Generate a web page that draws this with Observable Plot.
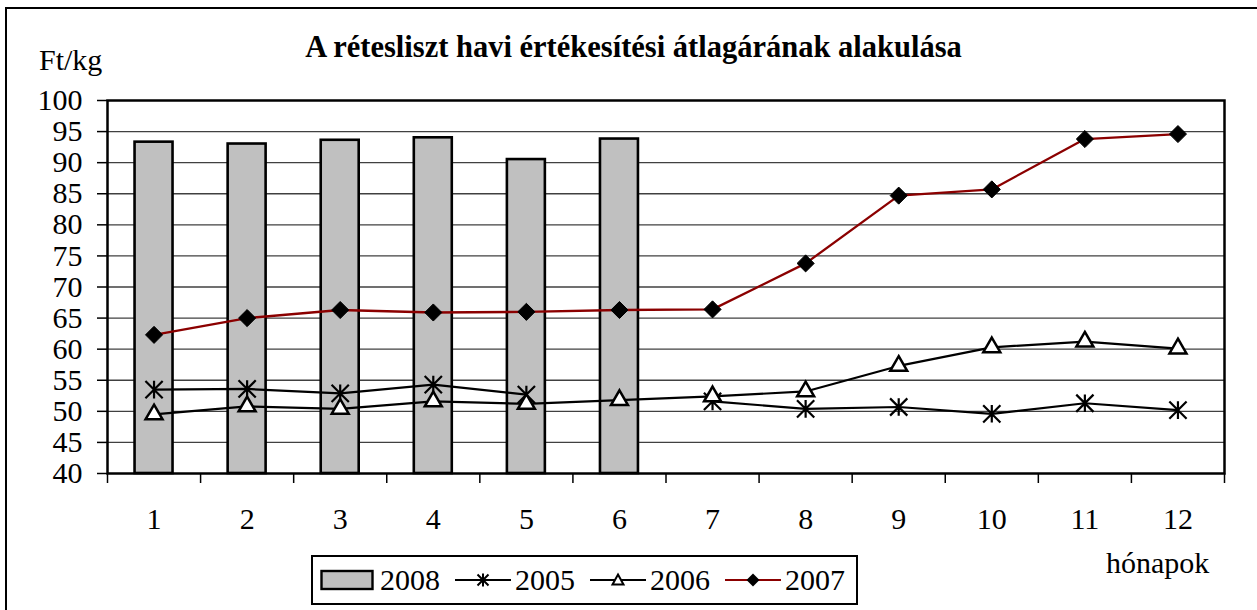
<!DOCTYPE html>
<html><head><meta charset="utf-8">
<script src="https://cdn.jsdelivr.net/npm/d3@7"></script>
<script src="https://cdn.jsdelivr.net/npm/@observablehq/plot@0.6"></script>
<style>
body{margin:0;background:#fff;}
#wrap{position:relative;width:1257px;height:610px;overflow:hidden;font-family:"Liberation Serif","Times New Roman",serif;color:#000;}
#border{position:absolute;left:5px;top:7px;width:1400px;height:800px;border-left:2.5px solid #000;border-top:2.5px solid #000;box-sizing:border-box;}
#chart{position:absolute;left:0;top:0;}
.lbl{position:absolute;white-space:nowrap;line-height:1;}
#title{left:0;width:1267px;text-align:center;top:32px;font-weight:bold;font-size:30.5px;}
#ylab{left:39px;top:45px;font-size:30px;}
#xlab{left:1106px;top:548px;font-size:30px;}
#legend{position:absolute;left:311px;top:555px;width:547px;height:50px;border:2px solid #000;box-sizing:border-box;background:#fff;display:flex;align-items:center;font-size:30px;}
#legend .item{display:flex;align-items:center;}
#legend svg{display:block;}
</style>
</head><body>
<div id="wrap">
<div id="border"></div>
<div id="chart"></div>
<div class="lbl" id="title">A rétesliszt havi értékesítési átlagárának alakulása</div>
<div class="lbl" id="ylab">Ft/kg</div>
<div class="lbl" id="xlab">hónapok</div>
<div id="legend"></div>
</div>
<script>
// ---- data ----
const months = [1, 2, 3, 4, 5, 6, 7, 8, 9, 10, 11, 12];
const barMonths = [1, 2, 3, 4, 5, 6];
const values2008 = [93.3, 93.0, 93.6, 94.0, 90.5, 93.8];
const values2005 = [53.5, 53.6, 52.9, 54.3, 52.7, null, 51.6, 50.4, 50.7, 49.6, 51.3, 50.2];
const values2006 = [49.5, 50.8, 50.4, 51.6, 51.2, 51.8, 52.4, 53.2, 57.3, 60.3, 61.2, 60.1];
const values2007 = [62.3, 65.0, 66.3, 65.9, 66.0, 66.3, 66.4, 73.8, 84.7, 85.7, 93.8, 94.6];
const yTicks = [40, 45, 50, 55, 60, 65, 70, 75, 80, 85, 90, 95, 100];
const seriesNames = ["2008", "2005", "2006", "2007"];

// ---- derived tables ----
const yDomain = [yTicks[0], yTicks[yTicks.length - 1]];
const bars = barMonths.map((m, i) => ({month: m, v: values2008[i]}));
const s2005 = months.map((m, i) => ({month: m, v: values2005[i]}));
const s2006 = months.map((m, i) => ({month: m, v: values2006[i]}));
const s2007 = months.map((m, i) => ({month: m, v: values2007[i]}));
const tickBounds = months.map(m => m - 0.5).concat([months[months.length - 1] + 0.5]);
const gridTicks = yTicks.slice(1, -1);
const halfBar = 0.204;

const star = {
  draw(ctx, size) {
    const r = Math.sqrt(size / Math.PI);
    const d = r * 0.98;
    ctx.moveTo(0, -r); ctx.lineTo(0, r);
    ctx.moveTo(-d, -d); ctx.lineTo(d, d);
    ctx.moveTo(-d, d); ctx.lineTo(d, -d);
  }
};

const darkRed = "#8b0000";

const chart = Plot.plot({
  width: 1257,
  height: 610,
  marginLeft: 107,
  marginRight: 33,
  marginTop: 100,
  marginBottom: 137,
  style: {fontFamily: "'Liberation Serif','Times New Roman',serif", fontSize: "30px", color: "#000", background: "transparent"},
  x: {type: "linear", domain: [tickBounds[0], tickBounds[tickBounds.length - 1]]},
  y: {domain: yDomain},
  marks: [
    Plot.ruleY(gridTicks, {stroke: "#404040", strokeWidth: 1.3}),
    Plot.rectY(bars, {x1: d => d.month - halfBar, x2: d => d.month + halfBar, y1: yDomain[0], y2: "v", fill: "#c0c0c0", stroke: "#000", strokeWidth: 2.6}),
    Plot.line(s2005, {x: "month", y: "v", stroke: "#000", strokeWidth: 2.2}),
    Plot.line(s2006, {x: "month", y: "v", stroke: "#000", strokeWidth: 2.2}),
    Plot.line(s2007, {x: "month", y: "v", stroke: darkRed, strokeWidth: 2.3}),
    Plot.dot(s2005.filter(d => d.v != null), {x: "month", y: "v", symbol: star, r: 8.8, fill: "none", stroke: "#000", strokeWidth: 2.2}),
    Plot.dot(s2006, {x: "month", y: "v", symbol: "triangle", r: 6.3, fill: "#fff", stroke: "#000", strokeWidth: 2.5}),
    Plot.dot(s2007, {x: "month", y: "v", symbol: "diamond2", r: 7.7, fill: "#000", stroke: "#000", strokeWidth: 1}),
    Plot.axisY(yTicks, {tickSize: 10, tickPadding: 15, stroke: "#000", strokeWidth: 1.5, fontSize: 30, label: null}),
    Plot.axisX(tickBounds, {tickSize: 10, tickFormat: () => "", stroke: "#000", strokeWidth: 1.5, label: null}),
    Plot.axisX(months, {tickSize: 0, tickPadding: 34, fontSize: 30, label: null}),
    Plot.frame({stroke: "#000", strokeWidth: 2.5})
  ]
});
document.getElementById("chart").appendChild(chart);

// ---- legend ----
const legend = document.getElementById("legend");
const ns = "http://www.w3.org/2000/svg";
function sw(kind) {
  const s = document.createElementNS(ns, "svg");
  s.setAttribute("width", 56); s.setAttribute("height", 24);
  let html = "";
  if (kind === "2008") {
    html = '<rect x="1.5" y="3" width="51" height="18" fill="#c0c0c0" stroke="#000" stroke-width="2.4"/>';
  } else {
    const col = kind === "2007" ? darkRed : "#000";
    html = `<line x1="0" y1="12" x2="56" y2="12" stroke="${col}" stroke-width="2.2"/>`;
    if (kind === "2005") html += '<path d="M28,5.5V18.5M22.5,6.5L33.5,17.5M22.5,17.5L33.5,6.5" stroke="#000" stroke-width="2" fill="none"/>';
    if (kind === "2006") html += '<path d="M28,6.5L33.5,16.5H22.5Z" stroke="#000" stroke-width="2" fill="#fff"/>';
    if (kind === "2007") html += '<path d="M28,5.5L34.5,12L28,18.5L21.5,12Z" fill="#000"/>';
  }
  s.innerHTML = html;
  return s;
}
seriesNames.forEach((name, i) => {
  const item = document.createElement("div");
  item.className = "item";
  item.style.marginLeft = i === 0 ? "7px" : "15px";
  item.appendChild(sw(name));
  const t = document.createElement("span");
  t.textContent = name;
  t.style.marginLeft = "4px";
  item.appendChild(t);
  legend.appendChild(item);
});
</script>
</body></html>
